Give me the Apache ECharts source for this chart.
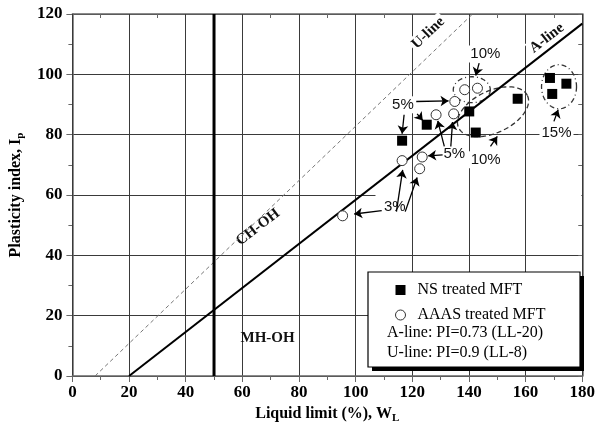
<!DOCTYPE html>
<html>
<head>
<meta charset="utf-8">
<script src="https://cdn.jsdelivr.net/npm/echarts@6/dist/echarts.min.js"></script>
<style>
html, body { margin: 0; padding: 0; background: #fff; }
#chart { width: 598px; height: 436px; }
</style>
</head>
<body>
<div id="chart"></div>
<script>
// NS treated MFT (filled squares)
const nsLL = [116.4, 125.1, 140.1, 142.4, 157.2, 168.6, 169.4, 174.4];
const nsPI = [78.0, 83.3, 87.7, 80.7, 91.9, 98.8, 93.5, 96.9];
// AAAS treated MFT (open circles)
const aaasLL = [95.4, 116.4, 122.6, 123.5, 128.4, 134.6, 135.0, 138.5, 143.0];
const aaasPI = [53.1, 71.4, 68.7, 72.6, 86.6, 86.9, 91.0, 94.9, 95.4];

// chart lines
const aLineLL = [20, 180];
const aLinePI = [0, 116.8];
const uLineLL = [8, 141.3];
const uLinePI = [0, 120];
const divLL = [50, 50];
const divPI = [0, 120];

const xTicks = [0, 20, 40, 60, 80, 100, 120, 140, 160, 180];
const yTicks = [0, 20, 40, 60, 80, 100, 120];

// annotations
const noteText = ['U-line', 'A-line', 'CH-OH', 'MH-OH', '10%', '5%', '5%', '10%', '15%', '3%'];
const noteLL = [125.6, 167.5, 65.5, 68.9, 145.8, 116.7, 134.8, 145.9, 170.9, 113.8];
const notePI = [113.7, 112.0, 49.3, 12.6, 106.7, 89.9, 73.7, 71.7, 80.5, 56.0];
const noteRot = [43.5, 37.6, 37.6, 0, 0, 0, 0, 0, 0, 0];

const arrowFrom = [[143.6, 103.7], [121.4, 91.0], [117.1, 86.6], [121.7, 86.9], [131.3, 76.1],
  [133.6, 76.1], [130.7, 73.3], [147.6, 76.1], [170.0, 84.4], [114.4, 54.5], [117.5, 54.5], [109.2, 54.8]];
const arrowTo = [[142.4, 99.6], [132.8, 91.2], [116.4, 80.3], [123.7, 84.7], [129.0, 84.6],
  [134.2, 84.2], [125.6, 73.0], [150.0, 79.4], [171.5, 88.3], [116.6, 68.3], [121.7, 65.8], [99.5, 53.7]];

const ellLL = [141.0, 148.5, 171.8];
const ellPI = [94.9, 87.6, 95.9];

const chart = echarts.init(document.getElementById('chart'));

const serif = 'Liberation Serif';
const gridColor = '#3a3a3a';

const ellShape = [
  { rx: 18.5, ry: 13, rot: 0, dash: [5, 3, 1, 3] },
  { rx: 38, ry: 21, rot: 25, dash: [5, 3] },
  { rx: 17.5, ry: 22, rot: 0, dash: [5, 3, 1, 3] }
];

const axisBase = {
  type: 'value',
  interval: 20,
  axisLine: { show: true, onZero: false, lineStyle: { color: '#666', width: 1.5 } },
  axisTick: { show: true, length: 6, lineStyle: { color: '#666' } },
  minorTick: { show: true, splitNumber: 2, length: 4, lineStyle: { color: '#666' } },
  axisLabel: { color: '#000', fontFamily: serif, fontWeight: 'bold', fontSize: 17 },
  splitLine: { show: true, lineStyle: { color: gridColor, width: 1 } }
};

const mirror = {
  type: 'value',
  interval: 20,
  axisLine: { show: true, onZero: false, lineStyle: { color: '#666', width: 1.5 } },
  axisTick: { show: true, inside: true, length: 4, lineStyle: { color: '#666' } },
  minorTick: { show: true, splitNumber: 2, length: 4, lineStyle: { color: '#666' } },
  axisLabel: { show: false },
  splitLine: { show: false }
};

const subRich = {
  sub: { fontFamily: serif, fontWeight: 'bold', fontSize: 11, padding: [9, 0, 0, 0] }
};

chart.setOption({
  animation: false,
  backgroundColor: '#fff',
  grid: { left: 71, right: 12, top: 14, bottom: 60 },
  xAxis: [
    Object.assign({}, axisBase, {
      min: xTicks[0], max: xTicks[xTicks.length - 1], z: 1,
      axisLabel: Object.assign({}, axisBase.axisLabel, { margin: 8 }),
      name: 'Liquid limit (%), W{sub|L}',
      nameLocation: 'middle', nameGap: 28,
      nameTextStyle: { color: '#000', fontFamily: serif, fontWeight: 'bold', fontSize: 16, rich: subRich }
    }),
    Object.assign({}, mirror, { position: 'top', min: xTicks[0], max: xTicks[xTicks.length - 1] })
  ],
  yAxis: [
    Object.assign({}, axisBase, {
      min: yTicks[0], max: yTicks[yTicks.length - 1], z: 0,
      axisLabel: Object.assign({}, axisBase.axisLabel, { margin: 10 }),
      name: 'Plasticity index, I{sub|p}',
      nameLocation: 'middle', nameGap: 38, nameRotate: 90,
      nameTextStyle: { color: '#000', fontFamily: serif, fontWeight: 'bold', fontSize: 16, rich: subRich }
    }),
    Object.assign({}, mirror, { position: 'right', min: yTicks[0], max: yTicks[yTicks.length - 1] })
  ],
  legend: {
    orient: 'vertical',
    left: 390, top: 277,
    itemWidth: 10, itemHeight: 10, itemGap: 9,
    z: 6,
    textStyle: { fontFamily: serif, fontSize: 16, color: '#000', padding: [0, 0, 0, 7] },
    data: [
      { name: 'NS treated MFT', icon: 'rect', itemStyle: { color: '#000' } },
      { name: 'AAAS treated MFT', icon: 'circle', itemStyle: { color: '#fff', borderColor: '#333', borderWidth: 1 } }
    ]
  },
  series: [
    {
      name: 'notes', type: 'scatter', z: 2, silent: true,
      symbol: 'circle', symbolSize: 1, itemStyle: { color: 'rgba(0,0,0,0)' },
      data: noteText.map((t, i) => {
        const serifNote = i < 4;
        return {
          value: [noteLL[i], notePI[i]],
          label: {
            show: true, position: 'inside', formatter: t, rotate: noteRot[i],
            fontFamily: serifNote ? serif : 'Liberation Sans',
            fontWeight: serifNote ? 'bold' : 'normal',
            fontSize: 15,
            color: '#111',
            opacity: 1,
            textBorderWidth: 0,
            backgroundColor: i === 2 || i === 3 ? 'transparent' : '#fff',
            padding: [1, 2]
          }
        };
      })
    },
    {
      name: 'U-line', type: 'line', z: 3, silent: true, symbol: 'none',
      lineStyle: { color: '#777', width: 1, type: [4, 3] },
      data: uLineLL.map((x, i) => [x, uLinePI[i]])
    },
    {
      name: 'A-line', type: 'line', z: 3, silent: true, symbol: 'none',
      lineStyle: { color: '#000', width: 2 },
      data: aLineLL.map((x, i) => [x, aLinePI[i]])
    },
    {
      name: 'LL50', type: 'line', z: 3, silent: true, symbol: 'none',
      lineStyle: { color: '#000', width: 3 },
      data: divLL.map((x, i) => [x, divPI[i]])
    },
    {
      name: 'ellipses', type: 'custom', z: 3, silent: true,
      coordinateSystem: 'cartesian2d',
      encode: { x: 0, y: 1 },
      data: ellLL.map((x, i) => [x, ellPI[i]]),
      renderItem: (params, api) => {
        const e = ellShape[params.dataIndex];
        const c = api.coord([api.value(0), api.value(1)]);
        const r = e.rot * Math.PI / 180;
        const pts = [];
        for (let k = 0; k <= 90; k++) {
          const t = k / 90 * 2 * Math.PI;
          const x = e.rx * Math.cos(t);
          const y = e.ry * Math.sin(t);
          pts.push([c[0] + x * Math.cos(r) + y * Math.sin(r), c[1] - x * Math.sin(r) + y * Math.cos(r)]);
        }
        return {
          type: 'polyline',
          shape: { points: pts },
          style: { stroke: '#333', fill: null, lineWidth: 1.3, lineDash: e.dash }
        };
      }
    },
    {
      name: 'arrows', type: 'lines', z: 4, silent: true,
      coordinateSystem: 'cartesian2d',
      symbol: ['none', 'arrow'], symbolSize: 8,
      lineStyle: { color: '#000', width: 1.3, opacity: 1 },
      data: arrowFrom.map((p, i) => ({ coords: [p, arrowTo[i]] }))
    },
    {
      name: 'AAAS treated MFT', type: 'scatter', z: 5,
      symbol: 'circle', symbolSize: 10,
      itemStyle: { color: '#fff', borderColor: '#333', borderWidth: 1, opacity: 1 },
      data: aaasLL.map((x, i) => [x, aaasPI[i]])
    },
    {
      name: 'NS treated MFT', type: 'scatter', z: 5,
      symbol: 'rect', symbolSize: 10,
      itemStyle: { color: '#000', opacity: 1 },
      data: nsLL.map((x, i) => [x, nsPI[i]])
    }
  ]
});

// white patch where the PI=60 grid line is hidden in the source, legend box and its extra lines
const p1 = chart.convertToPixel({ xAxisIndex: 0, yAxisIndex: 0 }, [107, 60]);
const p2 = chart.convertToPixel({ xAxisIndex: 0, yAxisIndex: 0 }, [180, 60]);
chart.setOption({
  graphic: [
    {
      type: 'rect', z: 0.5, silent: true,
      shape: { x: p1[0], y: p1[1] - 1.5, width: p2[0] - p1[0] - 1, height: 3 },
      style: { fill: '#fff' }
    },
    {
      type: 'rect', z: 5, silent: true,
      shape: { x: 372, y: 276, width: 212, height: 95 },
      style: { fill: '#000' }
    },
    {
      type: 'rect', z: 5, silent: true,
      shape: { x: 368, y: 272, width: 212, height: 95 },
      style: { fill: '#fff', stroke: '#000', lineWidth: 1.2 }
    },
    {
      type: 'text', z: 7, silent: true, left: 387, top: 325,
      style: { text: 'A-line: PI=0.73 (LL-20)', font: '16px "Liberation Serif"', fill: '#000' }
    },
    {
      type: 'text', z: 7, silent: true, left: 387, top: 345,
      style: { text: 'U-line: PI=0.9 (LL-8)', font: '16px "Liberation Serif"', fill: '#000' }
    }
  ]
});
</script>
</body>
</html>
